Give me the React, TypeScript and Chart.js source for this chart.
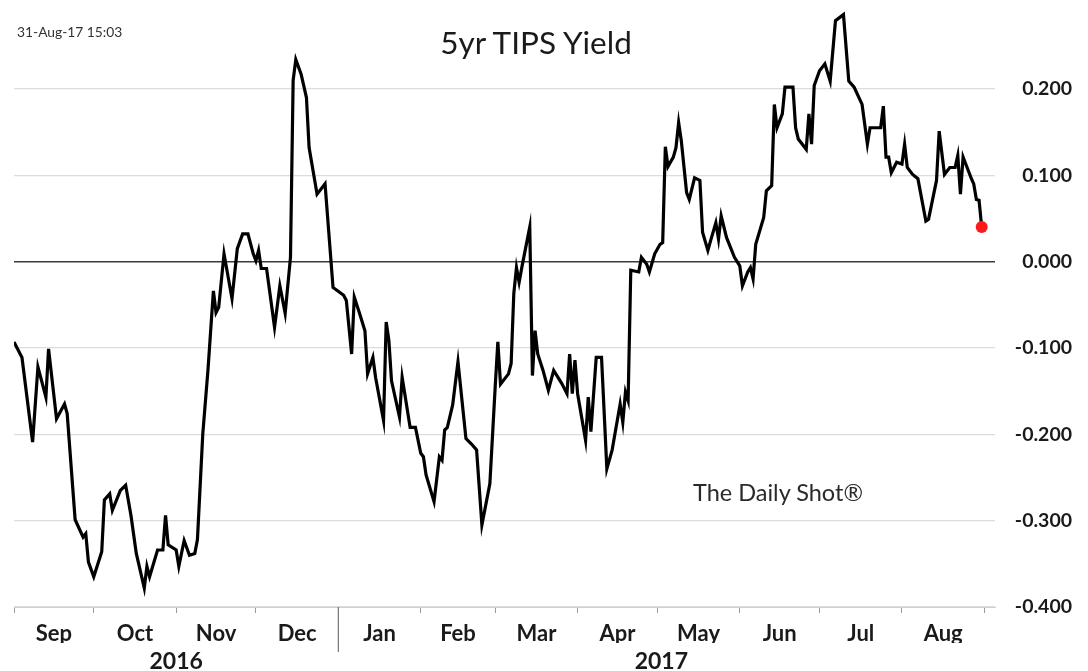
import React, { useEffect, useRef } from 'react';
import { Chart, registerables } from 'chart.js';

Chart.register(...registerables);

// days since 1-Sep-2016
const dayOffsets = [
  0, 3, 7, 9, 12, 13, 16, 19, 20, 23, 26, 27, 28, 30, 33, 34, 36, 37, 40, 42,
  44, 46, 49, 50, 51, 54, 56, 57, 58, 61, 62, 64, 66, 68, 69, 71, 73, 75, 76, 77,
  79, 82, 84, 86, 88, 90, 91, 92, 93, 95, 98, 100, 102, 104, 105, 106, 108, 110, 111, 114,
  117, 120, 124, 125, 127, 128, 130, 132, 133, 135, 136, 139, 140, 141, 142, 145, 146, 149, 151, 153,
  154, 155, 158, 160, 161, 162, 163, 165, 167, 170, 172, 174, 176, 179, 181, 182, 183, 186, 187, 188,
  189, 190, 191, 194, 195, 196, 197, 199, 201, 203, 206, 208, 209, 210, 211, 212, 215, 216, 217, 219,
  221, 223, 225, 228, 229, 230, 231, 232, 235, 236, 238, 239, 241, 243, 244, 245, 246, 248, 249, 250,
  251, 253, 254, 256, 258, 259, 261, 262, 264, 265, 266, 268, 271, 273, 274, 276, 277, 278, 279, 282,
  283, 285, 286, 287, 289, 290, 293, 294, 295, 298, 299, 300, 301, 303, 305, 307, 309, 312, 314, 316,
  319, 321, 322, 326, 327, 328, 329, 330, 332, 334, 335, 336, 338, 340, 343, 344, 347, 348, 350, 352,
  354, 355, 356, 357, 358, 360, 361, 362, 363, 364,
];

const yields = [
  -0.093, -0.111, -0.209, -0.122, -0.157, -0.101, -0.182, -0.165, -0.176, -0.299, -0.319, -0.315, -0.348, -0.365, -0.336, -0.276, -0.269, -0.288, -0.265, -0.259,
  -0.294, -0.338, -0.378, -0.353, -0.365, -0.334, -0.334, -0.294, -0.328, -0.334, -0.353, -0.323, -0.340, -0.338, -0.322, -0.200, -0.124, -0.034, -0.059, -0.053,
  0.009, -0.043, 0.015, 0.032, 0.032, 0.009, 0.001, 0.013, -0.008, -0.008, -0.076, -0.028, -0.060, 0.005, 0.210, 0.234, 0.217, 0.190, 0.132, 0.078,
  0.090, -0.030, -0.039, -0.045, -0.107, -0.041, -0.060, -0.080, -0.130, -0.111, -0.134, -0.184, -0.070, -0.091, -0.138, -0.180, -0.134, -0.192, -0.192, -0.222,
  -0.226, -0.247, -0.278, -0.226, -0.230, -0.195, -0.192, -0.166, -0.116, -0.205, -0.211, -0.218, -0.305, -0.257, -0.145, -0.093, -0.142, -0.130, -0.118, -0.037,
  -0.007, -0.024, -0.007, 0.040, -0.132, -0.080, -0.107, -0.126, -0.149, -0.126, -0.141, -0.153, -0.107, -0.153, -0.114, -0.153, -0.207, -0.157, -0.197, -0.111,
  -0.111, -0.240, -0.218, -0.165, -0.186, -0.151, -0.161, -0.010, -0.012, 0.005, -0.003, -0.012, 0.009, 0.020, 0.022, 0.133, 0.110, 0.121, 0.132, 0.161,
  0.140, 0.080, 0.072, 0.097, 0.094, 0.034, 0.013, 0.024, 0.045, 0.026, 0.053, 0.028, 0.005, -0.005, -0.028, -0.012, -0.007, -0.020, 0.020, 0.051,
  0.082, 0.088, 0.182, 0.155, 0.171, 0.202, 0.202, 0.155, 0.142, 0.130, 0.171, 0.136, 0.204, 0.221, 0.229, 0.209, 0.279, 0.286, 0.209, 0.202,
  0.182, 0.136, 0.155, 0.155, 0.180, 0.121, 0.121, 0.103, 0.115, 0.113, 0.136, 0.109, 0.101, 0.096, 0.047, 0.049, 0.094, 0.151, 0.101, 0.109,
  0.109, 0.123, 0.078, 0.121, 0.113, 0.097, 0.090, 0.072, 0.071, 0.040,
];

const monthBoundaries = [0, 30, 61, 91, 122, 153, 181, 212, 242, 273, 303, 334, 365];
const monthLabels = ['Sep', 'Oct', 'Nov', 'Dec', 'Jan', 'Feb', 'Mar', 'Apr', 'May', 'Jun', 'Jul', 'Aug'];
const yearLabels = ['2016', '2017'];
const yearBoundaryDay = 122;
const yTickValues = [-0.4, -0.3, -0.2, -0.1, 0, 0.1, 0.2];
const yMin = -0.4;
const yMax = 0.296;

const FONT = 'Lato, "Open Sans", sans-serif';

const fixSize = (w: number | null, h: number | null) => (s: any) => {
  if (w !== null) s.width = w;
  if (h !== null) s.height = h;
  s.paddingTop = 0;
  s.paddingBottom = 0;
  s.paddingLeft = 0;
  s.paddingRight = 0;
};

export default function App() {
  const canvasRef = useRef<HTMLCanvasElement | null>(null);

  useEffect(() => {
    const canvas = canvasRef.current;
    if (!canvas) return;
    const monthCenters = monthLabels.map((_, i) => (monthBoundaries[i] + monthBoundaries[i + 1]) / 2);
    const yearCenters = [
      (monthBoundaries[0] + yearBoundaryDay) / 2,
      (yearBoundaryDay + monthBoundaries[monthBoundaries.length - 1]) / 2,
    ];
    const lastIndex = yields.length - 1;

    const chart = new Chart(canvas, {
      type: 'line',
      data: {
        datasets: [
          {
            data: dayOffsets.map((d, i) => ({ x: d, y: yields[i] })),
            borderColor: '#000000',
            borderWidth: 3.2,
            tension: 0,
            pointRadius: (ctx: any) => (ctx.dataIndex === lastIndex ? 6 : 0),
            pointBackgroundColor: '#ff1a1a',
            pointBorderWidth: 0,
            xAxisID: 'x',
            yAxisID: 'y',
          },
          {
            data: [
              { x: yearBoundaryDay, y: yMin },
              { x: yearBoundaryDay, y: yMin - 0.052 },
            ],
            borderColor: '#777777',
            borderWidth: 1.2,
            pointRadius: 0,
            clip: false as any,
            xAxisID: 'x',
            yAxisID: 'y',
          },
        ],
      },
      options: {
        responsive: false,
        animation: false,
        devicePixelRatio: 1,
        layout: { padding: { top: 1, left: 14, right: 16, bottom: 0 } },
        plugins: {
          legend: { display: false },
          tooltip: { enabled: false },
          title: { display: false },
        },
        scales: {
          x: {
            type: 'linear',
            position: 'bottom',
            weight: 0,
            min: 0,
            max: 369,
            afterBuildTicks: (s: any) => {
              s.ticks = monthBoundaries.map((v) => ({ value: v }));
            },
            afterFit: fixSize(null, 6),
            ticks: { display: false },
            grid: { drawOnChartArea: false, drawTicks: true, tickLength: 6, color: '#9a9a9a' },
            border: { display: true, color: '#d0d0d0' },
          },
          xMonth: {
            type: 'linear',
            position: 'bottom',
            weight: 1,
            min: 0,
            max: 369,
            afterBuildTicks: (s: any) => {
              s.ticks = monthCenters.map((v) => ({ value: v }));
            },
            afterFit: fixSize(null, 30),
            ticks: {
              autoSkip: false,
              maxRotation: 0,
              padding: 0,
              color: '#1a1a1a',
              font: { family: FONT, size: 22, weight: 'bold' },
              callback: (_v: any, i: number) => monthLabels[i],
            },
            grid: { display: false },
            border: { display: false },
          },
          xYear: {
            type: 'linear',
            position: 'bottom',
            weight: 2,
            min: 0,
            max: 369,
            afterBuildTicks: (s: any) => {
              s.ticks = yearCenters.map((v) => ({ value: v }));
            },
            afterFit: fixSize(null, 28),
            ticks: {
              autoSkip: false,
              maxRotation: 0,
              padding: -3,
              color: '#1a1a1a',
              font: { family: FONT, size: 23, weight: 'bold' },
              callback: (_v: any, i: number) => yearLabels[i],
            },
            grid: { display: false },
            border: { display: false },
          },
          y: {
            type: 'linear',
            position: 'right',
            min: yMin,
            max: yMax,
            afterBuildTicks: (s: any) => {
              s.ticks = yTickValues.map((v) => ({ value: v }));
            },
            afterFit: fixSize(77, null),
            ticks: {
              crossAlign: 'far',
              padding: 10,
              color: '#1a1a1a',
              font: { family: FONT, size: 19.5, weight: 'bold' },
              callback: (v: any) => Number(v).toFixed(3),
            },
            grid: {
              drawTicks: false,
              color: (ctx: any) => (ctx.tick && ctx.tick.value === 0 ? '#3a3a3a' : '#dcdcdc'),
              lineWidth: (ctx: any) => (ctx.tick && ctx.tick.value === 0 ? 1.6 : 1.2),
            },
            border: { display: false },
          },
        },
      } as any,
    });
    return () => chart.destroy();
  }, []);

  return (
    <div style={{ position: 'fixed', left: 0, top: 0, width: 1088, height: 671, background: '#ffffff', overflow: 'hidden' }}>
      <canvas ref={canvasRef} width={1088} height={671} style={{ width: 1088, height: 671, display: 'block' }} />
      <div
        style={{
          position: 'absolute', left: 17, top: 32, transform: 'translateY(-50%)',
          fontFamily: FONT, fontSize: 13.8, color: '#333', whiteSpace: 'nowrap', lineHeight: 1,
        }}
      >
        31-Aug-17 15:03
      </div>
      <div
        style={{
          position: 'absolute', left: 536, top: 43, transform: 'translate(-50%, -50%)',
          fontFamily: FONT, fontSize: 31.5, color: '#1a1a1a', whiteSpace: 'nowrap', lineHeight: 1,
        }}
      >
        5yr TIPS Yield
      </div>
      <div
        style={{
          position: 'absolute', left: 693, top: 493, transform: 'translateY(-50%)',
          fontFamily: FONT, fontSize: 23.5, color: '#2a2a2a', whiteSpace: 'nowrap', lineHeight: 1,
        }}
      >
        The Daily Shot®
      </div>
    </div>
  );
}
